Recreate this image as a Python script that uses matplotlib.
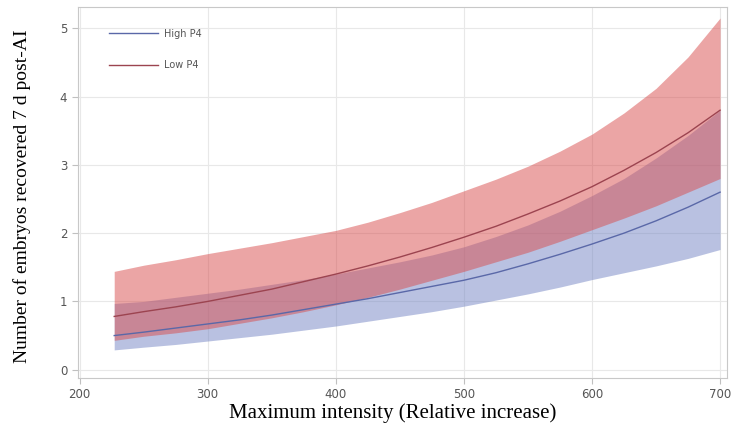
import matplotlib.pyplot as plt

# values
intensity = [227, 250, 275, 300, 325, 350, 375, 400, 425, 450,
             475, 500, 525, 550, 575, 600, 625, 650, 675, 700]

high_mean = [0.50, 0.55, 0.61, 0.67, 0.73, 0.80, 0.88, 0.96, 1.04, 1.13,
             1.22, 1.31, 1.42, 1.55, 1.69, 1.84, 2.00, 2.18, 2.38, 2.60]
high_upper = [0.97, 1.00, 1.06, 1.12, 1.18, 1.25, 1.32, 1.40, 1.49, 1.58,
              1.68, 1.80, 1.95, 2.12, 2.32, 2.55, 2.80, 3.10, 3.43, 3.80]
high_lower = [0.29, 0.33, 0.37, 0.42, 0.47, 0.52, 0.58, 0.64, 0.71, 0.78,
              0.85, 0.93, 1.02, 1.11, 1.21, 1.32, 1.42, 1.52, 1.63, 1.76]

low_mean = [0.78, 0.85, 0.92, 1.00, 1.09, 1.18, 1.29, 1.40, 1.52, 1.65,
            1.79, 1.94, 2.10, 2.28, 2.47, 2.68, 2.92, 3.18, 3.47, 3.80]
low_upper = [1.44, 1.53, 1.61, 1.70, 1.78, 1.86, 1.95, 2.04, 2.16, 2.30,
             2.45, 2.62, 2.79, 2.98, 3.20, 3.45, 3.76, 4.12, 4.58, 5.15]
low_lower = [0.43, 0.49, 0.54, 0.60, 0.68, 0.76, 0.85, 0.95, 1.06, 1.18,
             1.31, 1.44, 1.58, 1.72, 1.88, 2.05, 2.22, 2.40, 2.60, 2.80]

x_ticks = [200, 300, 400, 500, 600, 700]
y_ticks = [0, 1, 2, 3, 4, 5]

fig = plt.figure(figsize=(7.33, 4.42), dpi=100)
ax = fig.add_axes([0.106, 0.145, 0.886, 0.839])

# confidence bands
ax.fill_between(intensity, high_lower, high_upper, color='#7485c4', alpha=0.5, lw=0)
ax.fill_between(intensity, low_lower, low_upper, color='#d84c4c', alpha=0.5, lw=0)

# fitted lines
ax.plot(intensity, high_mean, color='#5a68a8', lw=1.0, label='High P4')
ax.plot(intensity, low_mean, color='#9c4450', lw=1.0, label='Low P4')

ax.set_xlim(198.5, 705.5)
ax.set_ylim(-0.12, 5.31)
ax.set_xticks(x_ticks)
ax.set_yticks(y_ticks)
ax.grid(color='#e8e8e8', lw=0.8)
ax.set_axisbelow(True)

for s in ax.spines.values():
    s.set_color('#c8c8c8')
ax.tick_params(colors='#c0c0c0', labelcolor='#555555', labelsize=8.5, length=4)

ax.set_xlabel('Maximum intensity (Relative increase)', family='Liberation Serif',
              fontsize=15)
ax.xaxis.set_label_coords(0.485, -0.068)
ax.set_ylabel('Number of embryos recovered 7 d post-AI', family='Liberation Serif',
              fontsize=14)
ax.yaxis.set_label_coords(-0.072, 0.49)

leg = ax.legend(loc='upper left', bbox_to_anchor=(0.035, 0.965), frameon=False,
                fontsize=7, handlelength=5, labelspacing=2.2, handletextpad=0.6)
for t in leg.get_texts():
    t.set_color('#555555')

fig.savefig('out.png', dpi=100)
